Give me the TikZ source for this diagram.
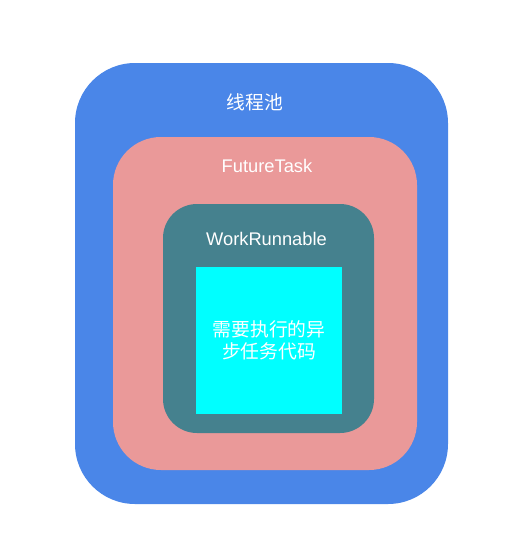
\documentclass[tikz,border=0pt]{standalone}
\usepackage{fontspec}
\setmainfont{Liberation Sans}
\newfontfamily\cjk{Noto Sans CJK SC}
\definecolor{outerblue}{HTML}{4A86E8}
\definecolor{pinkfill}{HTML}{EA9999}
\definecolor{tealfill}{HTML}{45818E}
\definecolor{cyanfill}{HTML}{00FFFF}
\begin{document}
\begin{tikzpicture}[x=1pt,y=-1pt,
  lbl/.style={text=white,font=\fontsize{18.3}{22}\selectfont,inner sep=0pt,anchor=base},
  cjklbl/.style={text=white,font=\cjk\fontsize{18.8}{22}\selectfont,inner sep=0pt,anchor=base}]
\useasboundingbox (0,0) rectangle (508,547);
\fill[outerblue,rounded corners=60pt] (75,63) rectangle (448,504);
\fill[pinkfill,rounded corners=48pt] (113,137) rectangle (417,470);
\fill[tealfill,rounded corners=34pt] (163,204) rectangle (374,433);
\node[fill=cyanfill,minimum width=146pt,minimum height=147pt,inner sep=0pt,anchor=north west] (task) at (196,267) {};
\node[cjklbl] (pool) at (255,109) {线程池};
\node[lbl] (ft) at (267,172) {FutureTask};
\node[lbl] (wr) at (266.5,245) {WorkRunnable};
\node[cjklbl] (l1) at (269,336) {需要执行的异};
\node[cjklbl] (l2) at (269,358) {步任务代码};
\end{tikzpicture}
\end{document}
